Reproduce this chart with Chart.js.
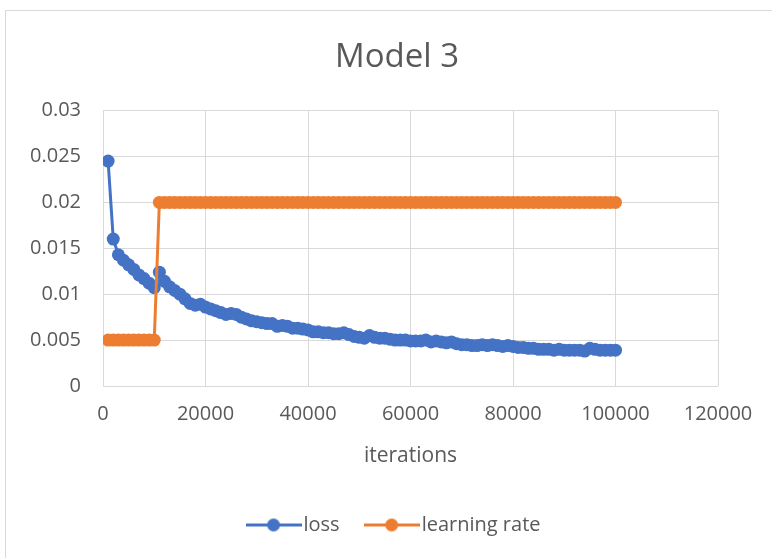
<!DOCTYPE html>
<html>
<head>
<meta charset="utf-8">
<script src="https://cdn.jsdelivr.net/npm/chart.js@4/dist/chart.umd.min.js"></script>
<style>
  html, body { margin: 0; padding: 0; background: #fff; overflow: hidden; }
  #wrap { position: relative; width: 772px; height: 558px; }
  #frame { position: absolute; left: 5px; top: 10px; width: 800px; height: 600px; border: 1px solid #d9d9d9; box-sizing: border-box; }
  canvas { position: absolute; left: 0; top: 0; }
</style>
</head>
<body>
<div id="wrap">
  <div id="frame"></div>
  <canvas id="c" width="772" height="558"></canvas>
</div>
<script>
const chartTitle = 'Model 3';
const xAxisTitle = 'iterations';
const seriesNames = ['loss', 'learning rate'];

const iterations = [
  1000,2000,3000,4000,5000,6000,7000,8000,9000,10000,
  11000,12000,13000,14000,15000,16000,17000,18000,19000,20000,
  21000,22000,23000,24000,25000,26000,27000,28000,29000,30000,
  31000,32000,33000,34000,35000,36000,37000,38000,39000,40000,
  41000,42000,43000,44000,45000,46000,47000,48000,49000,50000,
  51000,52000,53000,54000,55000,56000,57000,58000,59000,60000,
  61000,62000,63000,64000,65000,66000,67000,68000,69000,70000,
  71000,72000,73000,74000,75000,76000,77000,78000,79000,80000,
  81000,82000,83000,84000,85000,86000,87000,88000,89000,90000,
  91000,92000,93000,94000,95000,96000,97000,98000,99000,100000
];

const loss = [
  0.0245,0.0160,0.0143,0.0137,0.0132,0.0127,0.0121,0.0117,0.0112,0.0107,
  0.0124,0.0114,0.0108,0.0104,0.0100,0.0095,0.0090,0.0088,0.0089,0.0086,
  0.0084,0.0082,0.0080,0.0078,0.0079,0.0078,0.0075,0.0073,0.0071,0.0070,
  0.0069,0.0068,0.0068,0.0065,0.0066,0.0065,0.0063,0.0063,0.0062,0.0061,
  0.0059,0.0059,0.0058,0.0058,0.0057,0.0057,0.0058,0.0056,0.0054,0.0053,
  0.0052,0.0055,0.0053,0.0052,0.0052,0.0051,0.0050,0.0050,0.0050,0.0049,
  0.0049,0.0049,0.0050,0.0048,0.0049,0.0048,0.0047,0.0048,0.0046,0.0045,
  0.0045,0.0044,0.0044,0.0045,0.0044,0.0045,0.0044,0.0043,0.0044,0.0043,
  0.0042,0.0042,0.0041,0.0041,0.0040,0.0040,0.0040,0.0039,0.0040,0.0039,
  0.0039,0.0039,0.0039,0.0038,0.0041,0.0040,0.0039,0.0039,0.0039,0.0039
];

const learningRate = [
  0.005,0.005,0.005,0.005,0.005,0.005,0.005,0.005,0.005,0.005,
  0.02,0.02,0.02,0.02,0.02,0.02,0.02,0.02,0.02,0.02,
  0.02,0.02,0.02,0.02,0.02,0.02,0.02,0.02,0.02,0.02,
  0.02,0.02,0.02,0.02,0.02,0.02,0.02,0.02,0.02,0.02,
  0.02,0.02,0.02,0.02,0.02,0.02,0.02,0.02,0.02,0.02,
  0.02,0.02,0.02,0.02,0.02,0.02,0.02,0.02,0.02,0.02,
  0.02,0.02,0.02,0.02,0.02,0.02,0.02,0.02,0.02,0.02,
  0.02,0.02,0.02,0.02,0.02,0.02,0.02,0.02,0.02,0.02,
  0.02,0.02,0.02,0.02,0.02,0.02,0.02,0.02,0.02,0.02,
  0.02,0.02,0.02,0.02,0.02,0.02,0.02,0.02,0.02,0.02
];

const xTickValues = [0, 20000, 40000, 60000, 80000, 100000, 120000];
const xTickLabels = ['0', '20000', '40000', '60000', '80000', '100000', '120000'];
const yTickValues = [0, 0.005, 0.01, 0.015, 0.02, 0.025, 0.03];
const yTickLabels = ['0', '0.005', '0.01', '0.015', '0.02', '0.025', '0.03'];

const colors = ['#4472C4', '#ED7D31'];
const textColor = '#595959';
const gridColor = '#d9d9d9';
const FONT = "'Open Sans', sans-serif";

function legendSymbol(color) {
  const c = document.createElement('canvas');
  c.width = 56; c.height = 15;
  const g = c.getContext('2d');
  g.strokeStyle = color; g.lineWidth = 3;
  g.beginPath(); g.moveTo(0, 7.5); g.lineTo(56, 7.5); g.stroke();
  g.fillStyle = color;
  g.beginPath(); g.arc(28, 7.5, 6.5, 0, Math.PI * 2); g.fill();
  return c;
}
const symbols = colors.map(legendSymbol);

function toPoints(xs, ys) { return xs.map((x, i) => ({ x: x, y: ys[i] })); }

const datasets = [loss, learningRate].map((vals, i) => ({
  label: seriesNames[i],
  data: toPoints(iterations, vals),
  yAxisID: 'y',
  borderColor: colors[i],
  backgroundColor: colors[i],
  borderWidth: 3,
  pointRadius: 6.5,
  pointHoverRadius: 6.5,
  pointBorderWidth: 0,
  pointBackgroundColor: colors[i],
  tension: 0,
  order: i === 0 ? 1 : 0
}));

new Chart(document.getElementById('c'), {
  type: 'line',
  data: { datasets: datasets },
  options: {
    responsive: false,
    animation: false,
    devicePixelRatio: 1,
    layout: { padding: { left: 24, right: 2, top: 0, bottom: 13 } },
    plugins: {
      tooltip: { enabled: false },
      title: {
        display: true,
        text: chartTitle,
        color: textColor,
        font: { family: FONT, size: 33, weight: 'normal' },
        padding: { top: 38, bottom: 33 }
      },
      legend: {
        position: 'bottom',
        labels: {
          color: textColor,
          font: { family: FONT, size: 20 },
          usePointStyle: true,
          pointStyleWidth: 40,
          padding: 32,
          generateLabels: (chart) => chart.data.datasets.map((ds, i) => ({
            text: ds.label,
            fontColor: textColor,
            pointStyle: symbols[i],
            strokeStyle: colors[i],
            fillStyle: colors[i],
            lineWidth: 0,
            hidden: false,
            datasetIndex: i
          }))
        }
      }
    },
    scales: {
      x: {
        type: 'linear',
        min: 0, max: 120000,
        afterBuildTicks: (s) => { s.ticks = xTickValues.map(v => ({ value: v })); },
        afterFit: (s) => { s.height = 97; },
        grid: { color: gridColor, lineWidth: 1, drawTicks: false },
        border: { display: false },
        ticks: {
          color: textColor,
          font: { family: FONT, size: 20 },
          padding: 16,
          maxRotation: 0,
          autoSkip: false,
          callback: (v, i) => xTickLabels[i]
        },
        title: {
          display: true,
          text: xAxisTitle,
          color: textColor,
          font: { family: FONT, size: 21 },
          padding: { top: 14, bottom: 14 }
        }
      },
      y: {
        type: 'linear',
        position: 'left',
        min: 0, max: 0.03,
        afterBuildTicks: (s) => { s.ticks = yTickValues.map(v => ({ value: v })); },
        afterFit: (s) => { s.width = 79; },
        grid: { color: gridColor, lineWidth: 1, drawTicks: false },
        border: { display: false },
        ticks: {
          color: textColor,
          font: { family: FONT, size: 20 },
          padding: 22,
          autoSkip: false,
          callback: (v, i) => yTickLabels[i]
        }
      },
      yRight: {
        type: 'linear',
        position: 'right',
        min: 0, max: 0.03,
        afterFit: (s) => { s.width = 52; },
        grid: { display: false, drawTicks: false },
        border: { display: false },
        ticks: { display: false }
      }
    }
  }
});
</script>
</body>
</html>
